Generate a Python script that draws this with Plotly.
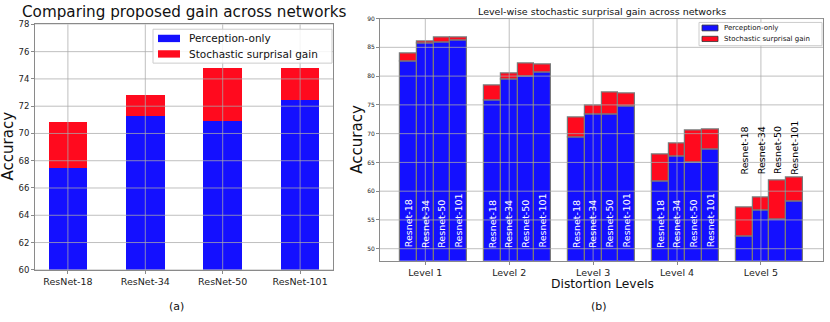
import plotly.graph_objects as go

# ---------------- data: panel (a) ----------------
networks_a = ["ResNet-18", "ResNet-34", "ResNet-50", "ResNet-101"]
perception_a = [67.42, 71.26, 70.90, 72.39]
total_a = [70.83, 72.80, 74.81, 74.79]
yticks_a = [60, 62, 64, 66, 68, 70, 72, 74, 76, 78]

# ---------------- data: panel (b) ----------------
levels_b = ["Level 1", "Level 2", "Level 3", "Level 4", "Level 5"]
net_labels_b = ["Resnet-18", "Resnet-34", "Resnet-50", "Resnet-101"]
perc_r18 = [82.54, 75.69, 69.24, 61.67, 52.12]
perc_r34 = [85.60, 79.45, 73.28, 65.98, 56.55]
perc_r50 = [85.90, 79.90, 73.28, 65.03, 55.03]
perc_r101 = [86.18, 80.57, 74.68, 67.27, 58.13]
total_r18 = [83.94, 78.33, 72.83, 66.43, 57.17]
total_r34 = [86.07, 80.40, 74.80, 68.23, 58.97]
total_r50 = [86.75, 82.26, 77.20, 70.59, 61.77]
total_r101 = [86.63, 81.97, 77.04, 70.76, 62.34]
yticks_b = [50, 55, 60, 65, 70, 75, 80, 85, 90]

series_names = ["Perception-only", "Stochastic surprisal gain"]

BLUE = "#1410ff"
RED = "#ff0a1e"
FONT = "DejaVu Sans"
W, H = 830, 322

def px_x(p):
    return p / W

def px_y(p):
    return 1 - p / H

fig = go.Figure()

# ---- panel (a) bars ----
xa = list(range(len(networks_a)))
gain_a = [t - p for t, p in zip(total_a, perception_a)]
fig.add_trace(go.Bar(x=xa, y=perception_a, width=0.5, marker_color=BLUE,
                     marker_line_width=0, name=series_names[0], showlegend=False,
                     xaxis="x", yaxis="y"))
fig.add_trace(go.Bar(x=xa, y=gain_a, base=perception_a, width=0.5, marker_color=RED,
                     marker_line_width=0, name=series_names[1], showlegend=False,
                     xaxis="x", yaxis="y"))

# ---- panel (b) bars ----
perc_b = [perc_r18, perc_r34, perc_r50, perc_r101]
total_b = [total_r18, total_r34, total_r50, total_r101]
bw = 0.2
offsets = [-1, 0, 1, 2]
EDGE = "#7a7a7a"
for i, (pv, tv) in enumerate(zip(perc_b, total_b)):
    xs = [k + offsets[i] * bw for k in range(len(levels_b))]
    gv = [t - p for t, p in zip(tv, pv)]
    fig.add_trace(go.Bar(x=xs, y=pv, width=bw, marker_color=BLUE,
                         marker_line=dict(color=EDGE, width=1.2),
                         name=series_names[0], showlegend=False,
                         xaxis="x2", yaxis="y2"))
    fig.add_trace(go.Bar(x=xs, y=gv, base=pv, width=bw, marker_color=RED,
                         marker_line=dict(color=EDGE, width=1.2),
                         name=series_names[1], showlegend=False,
                         xaxis="x2", yaxis="y2"))

annotations = []
label_y_inside = 50.0
label_y_above = 62.75
above_level = 4
for i, lab in enumerate(net_labels_b):
    for k in range(len(levels_b)):
        inside = k != above_level
        annotations.append(dict(
            x=k + offsets[i] * bw, y=label_y_inside if inside else label_y_above,
            xref="x2", yref="y2", text=lab, textangle=-90, showarrow=False,
            xanchor="center", yanchor="bottom", borderpad=0,
            font=dict(family=FONT, size=9.5, color="white" if inside else "black")))

# titles and labels
annotations += [
    dict(x=px_x(184), y=px_y(7.5), xref="paper", yref="paper", showarrow=False,
         text="Comparing proposed gain across networks", xanchor="center", yanchor="middle",
         borderpad=0, font=dict(family=FONT, size=15.2, color="#111")),
    dict(x=px_x(601.5), y=px_y(7), xref="paper", yref="paper", showarrow=False,
         text="Level-wise stochastic surprisal gain across networks", xanchor="center",
         yanchor="middle", font=dict(family=FONT, size=9.5, color="#111")),
    dict(x=px_x(8), y=px_y(146), xref="paper", yref="paper", showarrow=False,
         text="Accuracy", textangle=-90, xanchor="center", yanchor="middle",
         font=dict(family=FONT, size=15, color="#111")),
    dict(x=px_x(357), y=px_y(139), xref="paper", yref="paper", showarrow=False,
         text="Accuracy", textangle=-90, xanchor="center", yanchor="middle",
         font=dict(family=FONT, size=15, color="#111")),
    dict(x=px_x(602), y=px_y(287.5), xref="paper", yref="paper", showarrow=False,
         text="Distortion Levels", xanchor="center", yanchor="middle", borderpad=0,
         font=dict(family=FONT, size=12.3, color="#111")),
    dict(x=px_x(176), y=px_y(311), xref="paper", yref="paper", showarrow=False,
         text="(a)", xanchor="center", yanchor="middle",
         font=dict(family=FONT, size=11, color="#111")),
    dict(x=px_x(599), y=px_y(311), xref="paper", yref="paper", showarrow=False,
         text="(b)", xanchor="center", yanchor="middle",
         font=dict(family=FONT, size=11, color="#111")),
]

# gridlines drawn above bars (as in the reference)
GRID = "rgba(170,170,170,0.75)"
shapes = []
for v in yticks_a:
    shapes.append(dict(type="line", xref="x domain", yref="y", x0=0, x1=1, y0=v, y1=v,
                       line=dict(color=GRID, width=1), layer="above"))
for v in xa:
    shapes.append(dict(type="line", xref="x", yref="y domain", x0=v, x1=v, y0=0, y1=1,
                       line=dict(color=GRID, width=1), layer="above"))
for v in yticks_b:
    shapes.append(dict(type="line", xref="x2 domain", yref="y2", x0=0, x1=1, y0=v, y1=v,
                       line=dict(color=GRID, width=1), layer="above"))
for v in range(len(levels_b)):
    shapes.append(dict(type="line", xref="x2", yref="y2 domain", x0=v, x1=v, y0=0, y1=1,
                       line=dict(color=GRID, width=1), layer="above"))

# matplotlib-style legend boxes (compact entries)
def add_legend(box, patches, text_x, text_ys, size, patch_edge):
    shapes.append(dict(type="rect", xref="paper", yref="paper",
                       x0=px_x(box[0]), x1=px_x(box[1]), y0=px_y(box[3]), y1=px_y(box[2]),
                       fillcolor="rgba(255,255,255,0.85)", line=dict(color="#cccccc", width=1),
                       layer="above"))
    for (x0, x1, y0, y1), col, ty, name in zip(patches, [BLUE, RED], text_ys, series_names):
        shapes.append(dict(type="rect", xref="paper", yref="paper",
                           x0=px_x(x0), x1=px_x(x1), y0=px_y(y1), y1=px_y(y0),
                           fillcolor=col, line=dict(color=patch_edge, width=0.8 if patch_edge else 0),
                           layer="above"))
        annotations.append(dict(x=px_x(text_x), y=px_y(ty), xref="paper", yref="paper",
                                text=name, showarrow=False, xanchor="left", yanchor="middle",
                                font=dict(family=FONT, size=size, color="#111")))

add_legend((153, 332, 25, 60), [(158, 180, 30.7, 38.3), (158, 180, 46.7, 54.3)],
           187, [34.5, 50.7], 10.5, None)
add_legend((699, 822, 18, 42), [(702, 718, 20.7, 26.7), (702, 718, 32.3, 37.7)],
           722, [24, 35], 7, "#333333")

axis_common = dict(showgrid=False, zeroline=False, showline=True, mirror=True,
                   linecolor="#8a8a8a", linewidth=1, ticks="outside", ticklen=3,
                   tickcolor="#8a8a8a")

fig.update_layout(
    width=W, height=H, margin=dict(l=0, r=0, t=0, b=0),
    paper_bgcolor="white", plot_bgcolor="white",
    barmode="overlay", bargap=0,
    font=dict(family=FONT, color="#222"),
    xaxis=dict(domain=[px_x(35), px_x(333)], anchor="y", range=[-0.425, 3.425],
               tickvals=xa, ticktext=networks_a, tickfont=dict(size=9.5), **axis_common),
    yaxis=dict(domain=[px_y(273.3), px_y(20)], anchor="x", range=[60, 78],
               tickvals=yticks_a, tickfont=dict(size=8.5), **axis_common),
    xaxis2=dict(domain=[px_x(380), px_x(823)], anchor="y2", range=[-0.54, 4.74],
                tickvals=list(range(len(levels_b))), ticktext=levels_b,
                tickfont=dict(size=9.5), **axis_common),
    yaxis2=dict(domain=[px_y(264), px_y(14)], anchor="x2", range=[47.9, 90],
                tickvals=yticks_b, tickfont=dict(size=6), **axis_common),
    annotations=annotations, shapes=shapes, showlegend=False,
)

fig.write_html("out.html", config={"displayModeBar": False},
               post_script="document.body.style.margin='0';")
